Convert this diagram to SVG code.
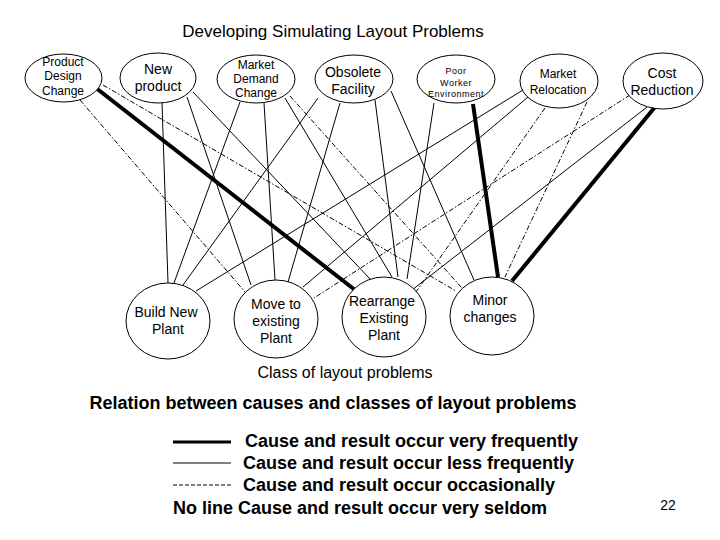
<svg xmlns="http://www.w3.org/2000/svg" width="720" height="540" viewBox="0 0 720 540">
<style>
.t{font-family:"Liberation Sans",Arial,sans-serif;fill:#000;text-anchor:middle}
.b{font-weight:bold}
.n{fill:#fff;stroke:#000;stroke-width:1}
.thick{stroke:#000;stroke-width:4;fill:none}
.thin{stroke:#000;stroke-width:1;fill:none}
.dd{stroke:#000;stroke-width:1;fill:none;stroke-dasharray:5,2,1.5,2}
</style>
<rect width="720" height="540" fill="#fff"/>
<text class="t" x="333" y="37" font-size="17">Developing Simulating Layout Problems</text>
<g id="connectors">
<line class="thin" x1="162" y1="103" x2="168" y2="283"/>
<line class="thin" x1="187" y1="97" x2="251" y2="285"/>
<line class="thin" x1="193" y1="92" x2="371" y2="280"/>
<line class="thin" x1="240" y1="102" x2="174" y2="283"/>
<line class="thin" x1="264" y1="103" x2="275" y2="280"/>
<line class="thin" x1="285" y1="98" x2="392" y2="277"/>
<line class="thin" x1="318" y1="98" x2="183" y2="285"/>
<line class="thin" x1="340" y1="103" x2="288" y2="282"/>
<line class="thin" x1="375" y1="100" x2="398" y2="277"/>
<line class="thin" x1="391" y1="91" x2="474" y2="280"/>
<line class="thin" x1="434" y1="103" x2="407" y2="279"/>
<line class="thin" x1="523" y1="90" x2="196" y2="291"/>
<line class="thin" x1="528" y1="97" x2="303" y2="287"/>
<line class="thin" x1="647" y1="107" x2="412" y2="290"/>
<line class="dd" x1="80" y1="100" x2="245" y2="292"/>
<line class="dd" x1="103" y1="85" x2="456" y2="291"/>
<line class="dd" x1="290" y1="96" x2="462" y2="288"/>
<line class="dd" x1="545" y1="108" x2="416" y2="292"/>
<line class="dd" x1="587" y1="102" x2="505" y2="277"/>
<line class="dd" x1="630" y1="95" x2="314" y2="298"/>
<line class="thick" x1="96" y1="88" x2="355" y2="290"/>
<line class="thick" x1="473" y1="104" x2="498" y2="277"/>
<line class="thick" x1="655" y1="107" x2="512" y2="281"/>
</g>
<g id="pdc"><ellipse class="n" cx="63.5" cy="78" rx="38.5" ry="24"/>
<text class="t" font-size="12"><tspan x="63" y="66">Product</tspan><tspan x="63" y="80">Design</tspan><tspan x="63" y="95">Change</tspan></text></g>
<g id="newproduct"><ellipse class="n" cx="158" cy="78" rx="38" ry="25"/>
<text class="t" font-size="14"><tspan x="158" y="74">New</tspan><tspan x="158" y="91">product</tspan></text></g>
<g id="marketdemand"><ellipse class="n" cx="256" cy="79" rx="39" ry="24"/>
<text class="t" font-size="12"><tspan x="256" y="69">Market</tspan><tspan x="256" y="83">Demand</tspan><tspan x="256" y="97">Change</tspan></text></g>
<g id="obsolete"><ellipse class="n" cx="354" cy="79" rx="39" ry="24"/>
<text class="t" font-size="14"><tspan x="353" y="77">Obsolete</tspan><tspan x="353" y="94">Facility</tspan></text></g>
<g id="poorworker"><ellipse class="n" cx="456" cy="79" rx="39" ry="24"/>
<text class="t" font-size="9" letter-spacing="0.5"><tspan x="456" y="74">Poor</tspan><tspan x="456" y="86">Worker</tspan><tspan x="456" y="97">Environment</tspan></text></g>
<g id="marketrelocation"><ellipse class="n" cx="559" cy="81" rx="39" ry="27"/>
<text class="t" font-size="12"><tspan x="558" y="78">Market</tspan><tspan x="558" y="94">Relocation</tspan></text></g>
<g id="costreduction"><ellipse class="n" cx="663" cy="81" rx="40" ry="28"/>
<text class="t" font-size="14"><tspan x="662" y="78">Cost</tspan><tspan x="662" y="95">Reduction</tspan></text></g>
<g id="buildnew"><ellipse class="n" cx="168" cy="321" rx="42" ry="38"/>
<text class="t" font-size="14"><tspan x="166" y="317">Build New</tspan><tspan x="168" y="334">Plant</tspan></text></g>
<g id="moveto"><ellipse class="n" cx="276" cy="319" rx="42" ry="39"/>
<text class="t" font-size="14"><tspan x="276" y="309">Move to</tspan><tspan x="276" y="326">existing</tspan><tspan x="276" y="343">Plant</tspan></text></g>
<g id="rearrange"><ellipse class="n" cx="384" cy="317" rx="42" ry="40"/>
<text class="t" font-size="14"><tspan x="382" y="306">Rearrange</tspan><tspan x="384" y="323">Existing</tspan><tspan x="384" y="340">Plant</tspan></text></g>
<g id="minor"><ellipse class="n" cx="492" cy="316" rx="42" ry="39"/>
<text class="t" font-size="14"><tspan x="490" y="305">Minor</tspan><tspan x="490" y="322">changes</tspan></text></g>
<text class="t" x="345" y="378" font-size="16">Class of layout problems</text>
<text class="t b" x="333" y="409" font-size="18">Relation between causes and classes of layout problems</text>
<g id="legend">
<line x1="173" y1="442" x2="231" y2="442" stroke="#000" stroke-width="3"/>
<line x1="173" y1="463" x2="231" y2="463" stroke="#000" stroke-width="1"/>
<line x1="173" y1="485" x2="231" y2="485" stroke="#000" stroke-width="1" stroke-dasharray="4,2"/>
<text class="t b" font-size="18" text-anchor="start" style="text-anchor:start"><tspan x="245" y="447">Cause and result occur very frequently</tspan><tspan x="243" y="469">Cause and result occur less frequently</tspan><tspan x="243" y="491">Cause and result occur occasionally</tspan><tspan x="173" y="514">No line Cause and result occur very seldom</tspan></text>
</g>
<text class="t" x="668" y="510" font-size="14">22</text>
</svg>
